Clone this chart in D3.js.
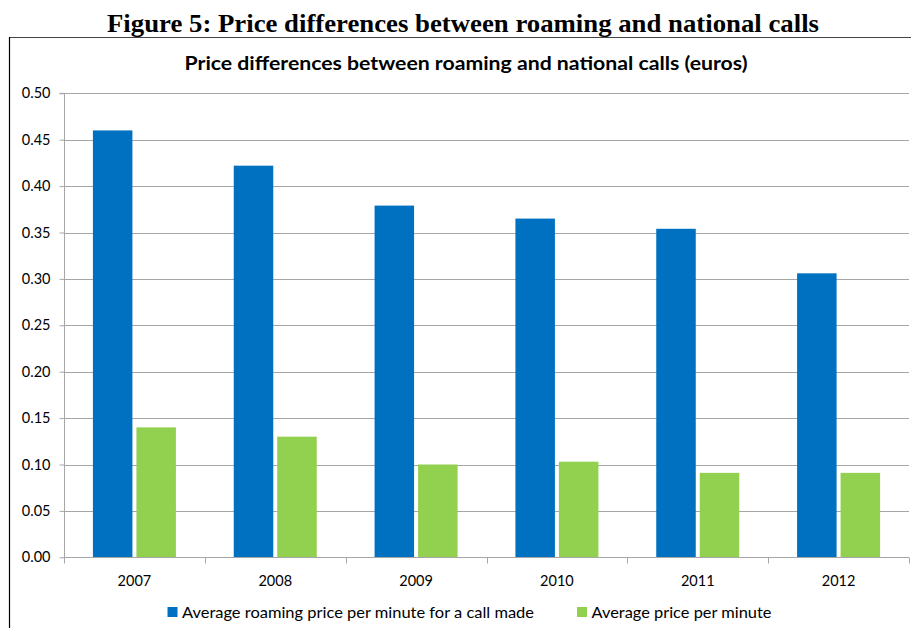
<!DOCTYPE html>
<html>
<head>
<meta charset="utf-8">
<script src="https://cdn.jsdelivr.net/npm/d3@7"></script>
<style>
  body { margin: 0; background: #fff; }
  svg { display: block; }
</style>
</head>
<body>
<svg id="chart" width="911" height="628"></svg>
<script>
const years = ["2007", "2008", "2009", "2010", "2011", "2012"];
const roamingPrice = [0.460, 0.422, 0.379, 0.365, 0.354, 0.306];
const nationalPrice = [0.140, 0.130, 0.100, 0.103, 0.091, 0.091];
const seriesNames = ["Average roaming price per minute for a call made", "Average price per minute"];
const seriesColors = ["#0070C0", "#92D050"];
const yTicks = [0, 0.05, 0.10, 0.15, 0.20, 0.25, 0.30, 0.35, 0.40, 0.45, 0.50];

const svg = d3.select("#chart");
const W = 911, H = 628;
const m = { left: 64, right: 909, top: 93.3, bottom: 557.3 };
const sans = "Lato, Open Sans, sans-serif";

// Figure caption
svg.append("text")
  .attr("x", 463).attr("y", 31.5)
  .attr("text-anchor", "middle")
  .attr("font-family", "Liberation Serif, Times New Roman, serif")
  .attr("font-weight", "bold")
  .attr("font-size", 25.5)
  .attr("textLength", 712).attr("lengthAdjust", "spacingAndGlyphs")
  .attr("fill", "#000")
  .text("Figure 5: Price differences between roaming and national calls");

// frame lines
svg.append("line").attr("x1", 9).attr("x2", W).attr("y1", 37.5).attr("y2", 37.5)
  .attr("stroke", "#444").attr("stroke-width", 1.2);
svg.append("line").attr("x1", 9.5).attr("x2", 9.5).attr("y1", 37).attr("y2", H)
  .attr("stroke", "#000").attr("stroke-width", 1.2);

// chart title
svg.append("text")
  .attr("x", 466).attr("y", 69.5)
  .attr("text-anchor", "middle")
  .attr("font-family", sans)
  .attr("font-weight", "bold")
  .attr("font-size", 19)
  .attr("textLength", 563).attr("lengthAdjust", "spacingAndGlyphs")
  .attr("fill", "#000")
  .text("Price differences between roaming and national calls (euros)");

const x0 = d3.scaleBand().domain(years).range([m.left, m.right]).paddingInner(0).paddingOuter(0);
const y = d3.scaleLinear().domain([0, 0.5]).range([m.bottom, m.top]);

// gridlines
svg.append("g").selectAll("line").data(yTicks.filter(d => d > 0)).join("line")
  .attr("x1", m.left).attr("x2", m.right)
  .attr("y1", d => Math.round(y(d)) + 0.5).attr("y2", d => Math.round(y(d)) + 0.5)
  .attr("stroke", "#a6a6a6").attr("stroke-width", 1);

// y axis
const yAxis = svg.append("g")
  .attr("transform", `translate(${m.left + 0.5},0)`)
  .call(d3.axisLeft(y).tickValues(yTicks).tickFormat(d3.format(".2f")).tickSize(5).tickPadding(9));
yAxis.select(".domain").attr("stroke", "#a6a6a6").attr("d", `M-5,${m.top}H0V${m.bottom}`);
yAxis.selectAll(".tick line").attr("stroke", "#a6a6a6");
yAxis.selectAll(".tick text").attr("font-family", sans).attr("font-size", 14.5).attr("fill", "#000");

// bars
const barW = 39.5, gap = 4;
const groupW = barW * 2 + gap;
const g = svg.append("g");
[roamingPrice, nationalPrice].forEach((vals, si) => {
  g.append("g").selectAll("rect").data(vals).join("rect")
    .attr("x", (d, i) => x0(years[i]) + (x0.bandwidth() - groupW) / 2 + si * (barW + gap))
    .attr("y", d => y(d))
    .attr("width", barW)
    .attr("height", d => y(0) - y(d))
    .attr("fill", seriesColors[si]);
});

// x axis
const xAxisG = svg.append("g").attr("transform", `translate(0,${Math.round(m.bottom) + 0.5})`);
xAxisG.append("line").attr("x1", m.left).attr("x2", m.right).attr("stroke", "#a6a6a6");
const boundaries = years.map(yy => x0(yy)).concat([m.right]);
xAxisG.selectAll("line.tk").data(boundaries).join("line").attr("class", "tk")
  .attr("x1", d => Math.round(d) + 0.5).attr("x2", d => Math.round(d) + 0.5)
  .attr("y1", 0).attr("y2", 6).attr("stroke", "#a6a6a6");
xAxisG.selectAll("text").data(years).join("text")
  .attr("x", d => x0(d) + x0.bandwidth() / 2)
  .attr("y", 28)
  .attr("text-anchor", "middle")
  .attr("font-family", sans)
  .attr("font-size", 14.5)
  .attr("fill", "#000")
  .text(d => d);

// legend
const legend = svg.append("g").attr("transform", "translate(0,617.5)");
const legendX = [167.5, 577];
const legendTextW = [352, 180];
seriesNames.forEach((name, i) => {
  legend.append("rect").attr("x", legendX[i]).attr("y", -10.5).attr("width", 10).attr("height", 10)
    .attr("fill", seriesColors[i]);
  legend.append("text").attr("x", legendX[i] + 14.5).attr("y", 0)
    .attr("font-family", sans)
    .attr("font-size", 15)
    .attr("textLength", legendTextW[i]).attr("lengthAdjust", "spacingAndGlyphs")
    .attr("fill", "#000")
    .text(name);
});
</script>
</body>
</html>
